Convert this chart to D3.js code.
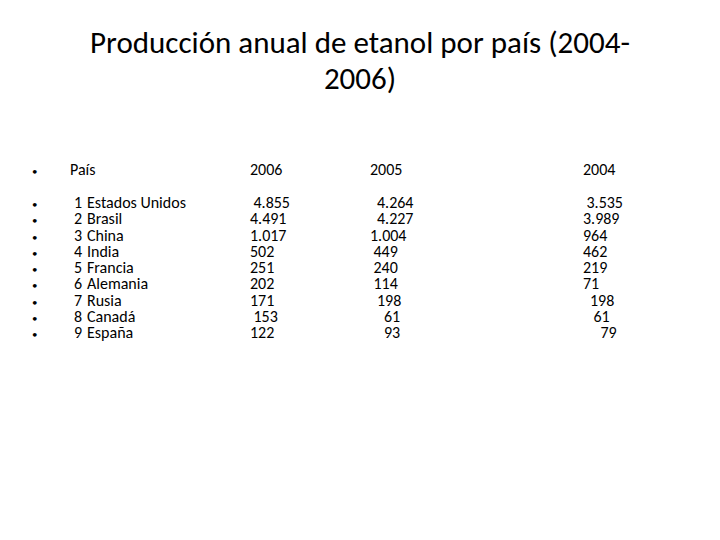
<!DOCTYPE html>
<html><head><meta charset="utf-8">
<script src="https://cdn.jsdelivr.net/npm/d3@7"></script>
<style>body{margin:0;background:#fff}</style>
</head><body>
<script>
const titleLines = ["Producción anual de etanol por país  (2004-", "2006)"];
const headers = ["País", "2006", "2005", "2004"];
const ranks = ["1","2","3","4","5","6","7","8","9"];
const countries = ["Estados Unidos","Brasil","China","India","Francia","Alemania","Rusia","Canadá","España"];
const v2006 = [" 4.855","4.491","1.017","502","251","202","171"," 153","122"];
const v2005 = ["  4.264","  4.227","1.004"," 449"," 240"," 114","  198","    61","    93"];
const v2004 = [" 3.535","3.989","964","462","219","71","  198","   61","     79"];

const W=720,H=540;
const svg=d3.select("body").append("svg").attr("width",W).attr("height",H);
const font="Carlito, Lato, 'Liberation Sans', sans-serif";
svg.selectAll("text.title").data(titleLines).join("text")
  .attr("x",360).attr("y",(d,i)=>53+i*36).attr("text-anchor","middle")
  .attr("font-family",font).attr("font-size",31).attr("fill","#000").text(d=>d);

const y=d3.scalePoint().domain(d3.range(9)).range([208,338]);
const colX=[87,250,370,583];
const g=svg.append("g").attr("font-family",font).attr("font-size",16).attr("fill","#000");
const put=(x,yy,s)=>{const n=s.length-s.trimStart().length;
  g.append("text").attr("x",x+n*3.5).attr("y",yy).text(s.trim());};
const bullet=yy=>g.append("text").attr("x",32).attr("y",yy).attr("font-size",11).text("•");
bullet(175);
headers.forEach((h,i)=>put(i==0?70:colX[i],175,h));
d3.range(9).forEach(i=>{
  const yy=y(i);
  bullet(yy);
  put(74,yy,ranks[i]);
  put(colX[0],yy,countries[i]);
  put(colX[1],yy,v2006[i]);
  put(colX[2],yy,v2005[i]);
  put(colX[3],yy,v2004[i]);
});
</script>
</body></html>
